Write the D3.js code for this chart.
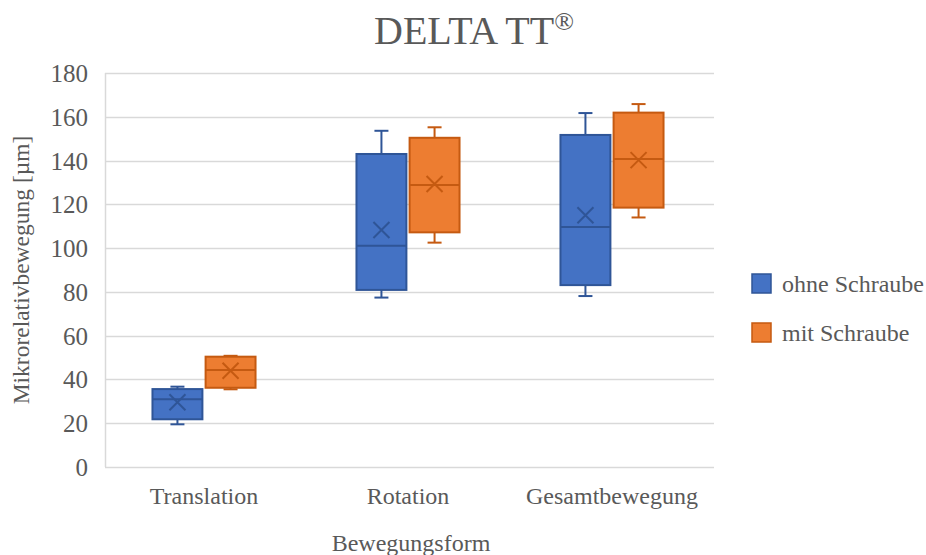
<!DOCTYPE html>
<html>
<head>
<meta charset="utf-8">
<script src="https://cdn.jsdelivr.net/npm/d3@7"></script>
<style>
  body { margin: 0; background: #fff; }
  text { font-family: "Liberation Serif", "Times New Roman", serif; fill: #595959; }
</style>
</head>
<body>
<svg id="chart" width="926" height="555"></svg>
<script>
const categories = ['Translation', 'Rotation', 'Gesamtbewegung'];
const seriesNames = ['ohne Schraube', 'mit Schraube'];
const yTicks = [0, 20, 40, 60, 80, 100, 120, 140, 160, 180];

// ohne Schraube: whisker min, q1, median, q3, whisker max, mean
const ohneMin = [19.5, 77.4, 78.1];
const ohneQ1 = [21.8, 80.9, 83.1];
const ohneMed = [30.9, 101.1, 109.6];
const ohneQ3 = [35.6, 143.0, 151.7];
const ohneMax = [36.7, 153.6, 161.7];
const ohneMean = [29.6, 108.3, 115.0];

// mit Schraube
const mitMin = [35.5, 102.5, 114.0];
const mitQ1 = [36.2, 107.2, 118.5];
const mitMed = [44.3, 128.8, 140.7];
const mitQ3 = [50.4, 150.4, 161.9];
const mitMax = [50.8, 155.2, 165.8];
const mitMean = [44.0, 129.3, 140.2];

const fills = ['#4472C4', '#ED7D31'];
const strokes = ['#2F5597', '#C55A11'];

const svg = d3.select('#chart');
const margin = {top: 73, bottom: 88, left: 102, right: 212};
const width = 926, height = 555;

const x = d3.scaleBand()
  .domain(categories)
  .range([margin.left, width - margin.right]);

const xInner = d3.scaleBand()
  .domain(seriesNames)
  .range([0, x.bandwidth()])
  .paddingInner(0.06)
  .paddingOuter(0.95);

const y = d3.scaleLinear()
  .domain([0, 180])
  .range([height - margin.bottom, margin.top]);

// gridlines
svg.append('g')
  .selectAll('line')
  .data(yTicks)
  .join('line')
  .attr('x1', margin.left + 3)
  .attr('x2', width - margin.right)
  .attr('y1', d => Math.round(y(d)) + 0.5)
  .attr('y2', d => Math.round(y(d)) + 0.5)
  .attr('stroke', '#d9d9d9')
  .attr('stroke-width', 1.5);

svg.append('line')
  .attr('x1', margin.left + 3.5).attr('x2', margin.left + 3.5)
  .attr('y1', y(180)).attr('y2', y(0))
  .attr('stroke', '#d9d9d9').attr('stroke-width', 1.5);

// y axis labels
const yAxis = d3.axisLeft(y).tickValues(yTicks).tickSize(0).tickPadding(14);
const gy = svg.append('g')
  .attr('transform', `translate(${margin.left},0)`)
  .call(yAxis);
gy.select('.domain').remove();
gy.selectAll('text')
  .attr('font-size', 25)
  .attr('font-family', '"Liberation Serif", serif')
  .attr('fill', '#595959')
  .attr('dy', '0.34em');

// x axis labels
const xAxis = d3.axisBottom(x).tickSize(0).tickPadding(20);
const gx = svg.append('g')
  .attr('transform', `translate(0,${y(0)})`)
  .call(xAxis);
gx.select('.domain').remove();
gx.selectAll('text')
  .attr('font-size', 24)
  .attr('font-family', '"Liberation Serif", serif')
  .attr('fill', '#595959');

const series = [
  {name: seriesNames[0], min: ohneMin, q1: ohneQ1, med: ohneMed, q3: ohneQ3, max: ohneMax, mean: ohneMean},
  {name: seriesNames[1], min: mitMin, q1: mitQ1, med: mitMed, q3: mitQ3, max: mitMax, mean: mitMean}
];

series.forEach((s, si) => {
  const g = svg.append('g');
  const stroke = strokes[si];
  categories.forEach((c, i) => {
    const x0 = x(c) + xInner(s.name);
    const w = xInner.bandwidth();
    const cx = x0 + w / 2;
    // whiskers
    g.append('line').attr('x1', cx).attr('x2', cx)
      .attr('y1', y(s.max[i])).attr('y2', y(s.q3[i]))
      .attr('stroke', stroke).attr('stroke-width', 2);
    g.append('line').attr('x1', cx).attr('x2', cx)
      .attr('y1', y(s.q1[i])).attr('y2', y(s.min[i]))
      .attr('stroke', stroke).attr('stroke-width', 2);
    [s.max[i], s.min[i]].forEach(v => {
      g.append('line').attr('x1', cx - 7).attr('x2', cx + 7)
        .attr('y1', y(v)).attr('y2', y(v))
        .attr('stroke', stroke).attr('stroke-width', 2);
    });
    // box
    g.append('rect')
      .attr('x', x0).attr('width', w)
      .attr('y', y(s.q3[i])).attr('height', y(s.q1[i]) - y(s.q3[i]))
      .attr('fill', fills[si]).attr('stroke', stroke).attr('stroke-width', 2);
    // median
    g.append('line').attr('x1', x0).attr('x2', x0 + w)
      .attr('y1', y(s.med[i])).attr('y2', y(s.med[i]))
      .attr('stroke', stroke).attr('stroke-width', 2);
    // mean marker
    const my = y(s.mean[i]), r = 8;
    g.append('path')
      .attr('d', `M${cx - r},${my - r}L${cx + r},${my + r}M${cx - r},${my + r}L${cx + r},${my - r}`)
      .attr('stroke', stroke).attr('stroke-width', 2).attr('fill', 'none');
  });
});

// title
svg.append('text')
  .attr('x', 474).attr('y', 44)
  .attr('text-anchor', 'middle')
  .attr('font-size', 40)
  .html('DELTA TT<tspan font-size="26" dy="-14">®</tspan>');

// axis titles
svg.append('text')
  .attr('transform', `translate(29,${(y(0) + y(180)) / 2}) rotate(-90)`)
  .attr('text-anchor', 'middle')
  .attr('font-size', 23.5)
  .text('Mikrorelativbewegung [µm]');

svg.append('text')
  .attr('x', 411).attr('y', 551)
  .attr('text-anchor', 'middle')
  .attr('font-size', 24)
  .text('Bewegungsform');

// legend
const legend = svg.append('g')
  .selectAll('g')
  .data(seriesNames)
  .join('g')
  .attr('transform', (d, i) => `translate(752,${274 + i * 49})`);
legend.append('rect')
  .attr('width', 19).attr('height', 19)
  .attr('fill', (d, i) => fills[i])
  .attr('stroke', (d, i) => strokes[i]).attr('stroke-width', 1.5);
legend.append('text')
  .attr('x', 30).attr('y', 18)
  .attr('font-size', 24)
  .text(d => d);
</script>
</body>
</html>
